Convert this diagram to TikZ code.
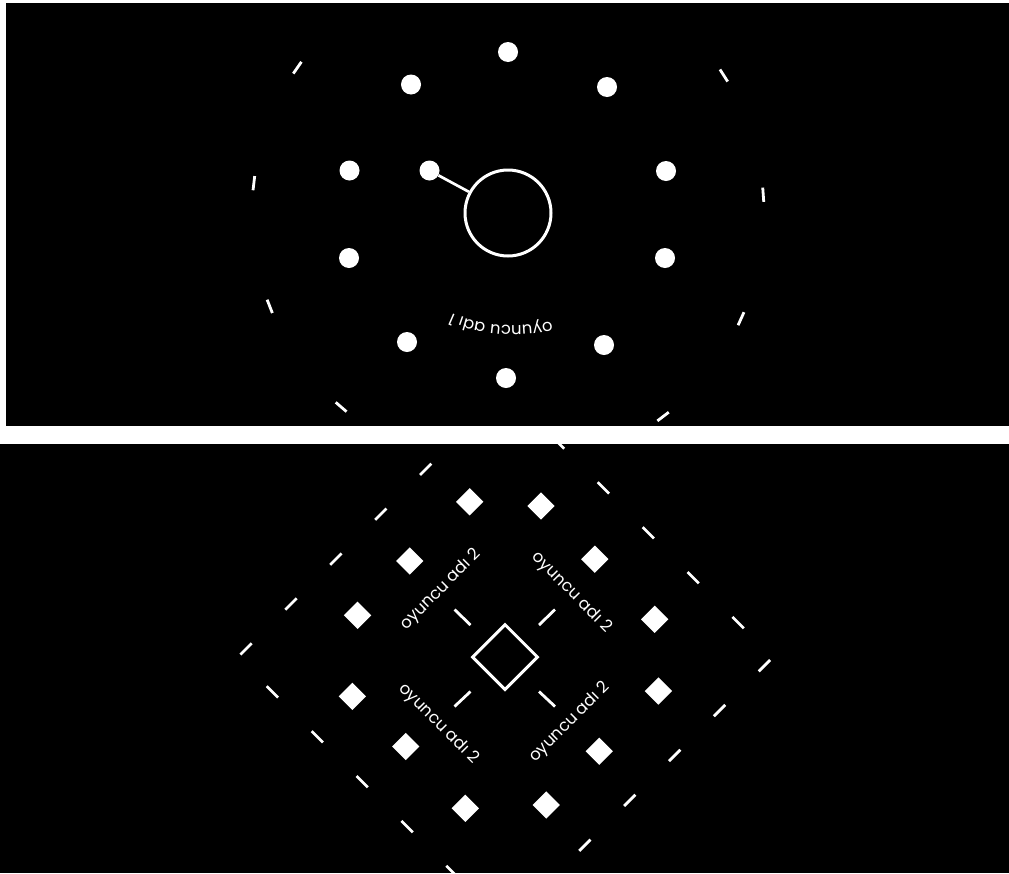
\documentclass[tikz,border=0pt]{standalone}
\usepackage{fontspec}
\setmainfont{Poppins}
\usetikzlibrary{shapes.geometric,decorations.text,calc}
\begin{document}
\begin{tikzpicture}[x=1pt,y=-1pt,
  dot/.style={circle,fill=white,inner sep=0pt,minimum size=20pt},
  gem/.style={diamond,fill=white,inner sep=0pt,minimum width=27.5pt,minimum height=27.5pt},
  hubring/.style={circle,draw=white,line width=3pt,inner sep=0pt,minimum size=86pt},
  hubsq/.style={diamond,draw=white,line width=3pt,inner sep=0pt,minimum width=66pt,minimum height=66pt},
  tickmark/.style={white,line width=2.8pt},
  link/.style={white,line width=2.7pt},
  lbl/.style={text=white,font=\fontsize{16.5}{19}\selectfont,inner sep=0pt},
  dashedge/.style={white,line width=2.8pt,dash pattern=on 16pt off 47.5pt,dash phase=22.5pt}]

\useasboundingbox (0,0) rectangle (1009,873);
\fill[white] (0,0) rectangle (1009,873);
\fill[black] (6,3) rectangle (1009,426);
\fill[black] (0,444) rectangle (1009,873);

% ---------- top panel ----------
\begin{scope}
\clip (6,3) rectangle (1009,426);
\node[hubring] (hub) at (508,213) {};
\node[dot] (p1) at (508,52) {};
\node[dot] (p2) at (411,84.5) {};
\node[dot] (p3) at (607,87) {};
\node[dot] (p4) at (349.5,170.5) {};
\node[dot] (p5) at (666,171) {};
\node[dot] (p6) at (349,258) {};
\node[dot] (p7) at (665,258) {};
\node[dot] (p8) at (407,342) {};
\node[dot] (p9) at (604,345) {};
\node[dot] (p10) at (506,378) {};
\node[dot] (px) at (429.5,170.5) {};
\draw[link] (px) -- (hub);
\foreach \a in {-52.7,-24.4,4.1,32.5,145.4,173.3,201.4,229.3}
  \draw[tickmark] ($(hub.center)+(\a-1.6:256pt)$) -- ($(hub.center)+(\a+1.6:256pt)$);
\path[decorate,decoration={text along path,text color=white,text align=center,
  text={|\fontsize{16.5}{19}\selectfont|oyuncu adı 1}}]
  (558,320) .. controls (522,330) and (478,327) .. (446,310);
\end{scope}

% ---------- bottom panel ----------
\begin{scope}
\clip (0,444) rectangle (1009,873);
\coordinate (vt) at (505.25,389.75);
\coordinate (vl) at (237.75,657.25);
\coordinate (vb) at (505.25,924.75);
\coordinate (vr) at (772.75,657.25);
\draw[dashedge] (vt) -- (vl);
\draw[dashedge] (vl) -- (vb);
\draw[dashedge] (vb) -- (vr);
\draw[dashedge] (vr) -- (vt);

\node[hubsq] (core) at (505,657) {};
\draw[tickmark] (454.5,609.5) -- (470.5,625);
\draw[tickmark] (539,625) -- (555,609.5);
\draw[tickmark] (454.5,706.5) -- (470.5,691.5);
\draw[tickmark] (539,691.5) -- (555,706.5);

\node[gem] (g1) at (469.7,501.8) {};
\node[gem] (g2) at (541,506) {};
\node[gem] (g3) at (409.8,561) {};
\node[gem] (g4) at (594.8,559.2) {};
\node[gem] (g5) at (357.6,615.3) {};
\node[gem] (g6) at (654.7,619.3) {};
\node[gem] (g7) at (352.4,696.4) {};
\node[gem] (g8) at (658.4,691) {};
\node[gem] (g9) at (405.7,746.5) {};
\node[gem] (g10) at (599.2,751.2) {};
\node[gem] (g11) at (465.3,808.3) {};
\node[gem] (g12) at (546.3,805) {};

\node[lbl,rotate=45] (t1) at (441,590) {oyuncu adı 2};
\node[lbl,rotate=-45] (t2) at (571.5,592.5) {oyuncu adı 2};
\node[lbl,rotate=-45] (t3) at (438.5,724) {oyuncu adı 2};
\node[lbl,rotate=45] (t4) at (570,722.5) {oyuncu adı 2};
\end{scope}
\end{tikzpicture}
\end{document}
